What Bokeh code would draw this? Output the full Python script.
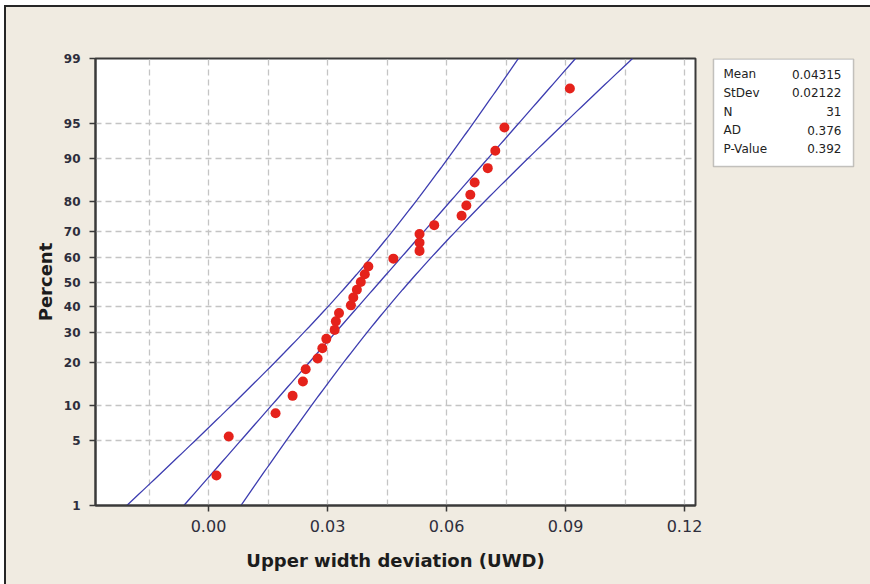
from statistics import NormalDist
from bokeh.plotting import figure
from bokeh.layouts import row
from bokeh.models import (FixedTicker, Range1d, BoxAnnotation, Label,
                          ColumnDataSource, CustomJSTickFormatter, NumeralTickFormatter)
from bokeh.embed import file_html
from bokeh.resources import INLINE

# ---------------- data ----------------
uwd = [0.0020, 0.0051, 0.0169, 0.0212, 0.0238, 0.0245, 0.0275, 0.0287, 0.0297,
       0.0318, 0.0321, 0.0329, 0.0359, 0.0365, 0.0374, 0.0384, 0.0394, 0.0403,
       0.0466, 0.0532, 0.0532, 0.0532, 0.0569, 0.0638, 0.0650, 0.0660, 0.0671,
       0.0704, 0.0723, 0.0746, 0.0911]
percent = [2.2, 5.4, 8.6, 11.8, 15.0, 18.2, 21.3, 24.5, 27.7, 30.9, 34.1, 37.3,
           40.4, 43.6, 46.8, 50.0, 53.2, 56.4, 59.6, 62.7, 65.9, 69.1, 72.3, 75.5,
           78.7, 81.8, 85.0, 88.2, 91.4, 94.6, 97.8]
y_tick_pct = [1, 5, 10, 20, 30, 40, 50, 60, 70, 80, 90, 95, 99]
y_grid_pct = [5, 10, 20, 30, 40, 50, 60, 70, 80, 90, 95]
x_ticks = [0.00, 0.03, 0.06, 0.09, 0.12]
x_grid = [-0.015, 0.0, 0.015, 0.03, 0.045, 0.06, 0.075, 0.09, 0.105, 0.12]
MEAN = 0.04315
STDEV = 0.02122
N = 31
stat_names = ["Mean", "StDev", "N", "AD", "P-Value"]
stat_values = ["0.04315", "0.02122", "31", "0.376", "0.392"]

nd = NormalDist()
zq = lambda p: round(nd.inv_cdf(p / 100.0), 6)

# normal-probability transform of percents
z_pts = [zq(p) for p in percent]
z_ticks = [zq(p) for p in y_tick_pct]
z_grid = [zq(p) for p in y_grid_pct]

# fitted line and 95% confidence band from the displayed Mean / StDev / N
z_lo, z_hi = zq(1), zq(99)
zs = [z_lo + (z_hi - z_lo) * i / 120 for i in range(121)]
fit_x = [MEAN + STDEV * z for z in zs]
half = [1.96 * STDEV * (1.0 / N + z * z / (2.0 * N)) ** 0.5 for z in zs]
lo_x = [f - h for f, h in zip(fit_x, half)]
hi_x = [f + h for f, h in zip(fit_x, half)]

BG = "#f0ebe1"
DARK = "#3a3a3a"
FONT = "DejaVu Sans"
TOTAL_H = 577

p = figure(width=704, height=TOTAL_H, frame_width=600, frame_height=447,
           min_border_left=89, min_border_right=15,
           min_border_top=51, min_border_bottom=79,
           x_range=Range1d(-0.02849, 0.12277), y_range=Range1d(z_lo, z_hi),
           output_backend="svg", toolbar_location=None,
           background_fill_color="white", border_fill_color=BG)

p.outline_line_color = DARK
p.outline_line_width = 2

# grids
p.xgrid[0].ticker = FixedTicker(ticks=x_grid)
p.ygrid[0].ticker = FixedTicker(ticks=z_grid)
for g in (p.xgrid[0], p.ygrid[0]):
    g.grid_line_color = "#c4c4c4"
    g.grid_line_dash = "6 4"
    g.grid_line_width = 1.3

# axes
p.xaxis.ticker = FixedTicker(ticks=x_ticks)
p.xaxis.formatter = NumeralTickFormatter(format="0.00")
p.yaxis.ticker = FixedTicker(ticks=z_ticks)
p.yaxis.formatter = CustomJSTickFormatter(
    args=dict(zs=z_ticks, labels=[str(v) for v in y_tick_pct]),
    code="""
    let best = 0, bd = Infinity;
    for (let i = 0; i < zs.length; i++) {
        const d = Math.abs(zs[i] - tick);
        if (d < bd) { bd = d; best = i; }
    }
    return labels[best];
    """)

for ax in (p.xaxis[0], p.yaxis[0]):
    ax.axis_line_color = DARK
    ax.axis_line_width = 2
    ax.major_tick_line_color = DARK
    ax.major_tick_line_width = 1.5
    ax.major_tick_out = 6
    ax.major_tick_in = 0
    ax.minor_tick_line_color = None
    ax.major_label_text_font = FONT
    ax.major_label_text_color = "#2e2e3c"
    ax.axis_label_text_font = FONT
    ax.axis_label_text_font_style = "bold"
    ax.axis_label_text_font_size = "18px"
    ax.axis_label_text_color = "#1c1c1c"

p.xaxis.major_label_text_font_size = "16px"
p.xaxis.major_label_standoff = 8
p.xaxis.axis_label = "Upper width deviation (UWD)"
p.xaxis.axis_label_standoff = 15

p.yaxis.major_label_text_font_size = "12px"
p.yaxis.major_label_text_font_style = "bold"
p.yaxis.major_label_standoff = 9
p.yaxis.axis_label = "Percent"
p.yaxis.axis_label_standoff = 5

# lines
LINE = "#3d3db0"
p.line(lo_x, zs, line_color=LINE, line_width=1.3)
p.line(fit_x, zs, line_color=LINE, line_width=1.3)
p.line(hi_x, zs, line_color=LINE, line_width=1.3)

# points
src = ColumnDataSource(dict(x=uwd, y=z_pts))
p.scatter("x", "y", source=src, size=10, fill_color="#e5221b", line_color=None)

# ---------------- statistics panel ----------------
# its frame is aligned with the main frame (page y 58..505); use page-pixel units
s = figure(width=160, height=TOTAL_H, x_range=Range1d(0, 160),
           y_range=Range1d(505, 58), min_border=0,
           x_axis_type=None, y_axis_type=None,
           output_backend="svg", toolbar_location=None,
           background_fill_color=BG, border_fill_color=BG)
s.grid.visible = False
s.outline_line_color = None
s.add_layout(BoxAnnotation(left=3, right=143, top=58.5, bottom=166,
                           fill_color="white", fill_alpha=1,
                           line_color="#444444", line_width=1.5))
row_y = [73.5, 92, 111, 129.5, 148]
for name, val, yy in zip(stat_names, stat_values, row_y):
    s.add_layout(Label(x=13, y=yy, text=name, text_font=FONT,
                       text_font_size="12px", text_color="#222222",
                       text_baseline="middle", text_align="left"))
    s.add_layout(Label(x=131, y=yy, text=val, text_font=FONT,
                       text_font_size="12px", text_color="#222222",
                       text_baseline="middle", text_align="right"))

layout = row(p, s, spacing=0,
             styles={"border-top": "2px solid #262626",
                     "border-left": "2px solid #262626",
                     "margin-top": "5px", "margin-left": "4px",
                     "background-color": BG})

open("out.html", "w").write(file_html(layout, INLINE))
